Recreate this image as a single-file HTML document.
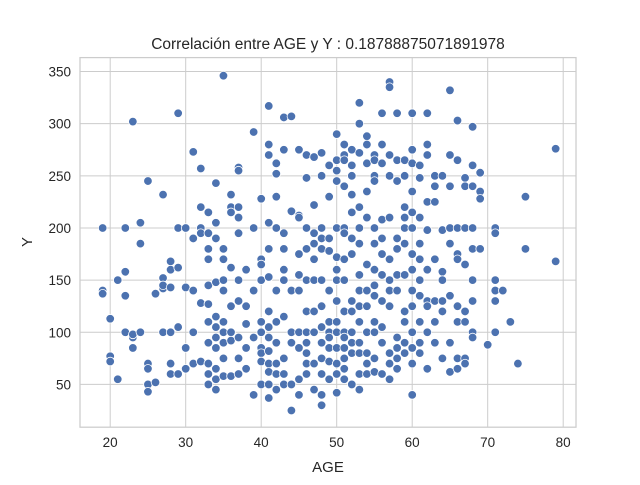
<!DOCTYPE html>
<html><head><meta charset="utf-8"><style>
body{margin:0;background:#fff}
text{font-family:"Liberation Sans",Arial,sans-serif;fill:#262626}
</style></head><body>
<svg id="chart" width="640" height="480" xmlns="http://www.w3.org/2000/svg">
<rect width="640" height="480" fill="#fff"/>
<g id="grid"></g>
<g id="pts"></g>
<rect x="80" y="57.6" width="496" height="369.6" fill="none" stroke="#cccccc" stroke-width="1.25"/>
<g id="ticks"></g>
<text x="328" y="49" text-anchor="middle" font-size="15.5">Correlación entre AGE y Y : 0.18788875071891978</text>
<text x="328" y="472" text-anchor="middle" font-size="15">AGE</text>
<text x="32" y="242" text-anchor="middle" font-size="15" transform="rotate(-90 32 242)">Y</text>
</svg>
<script>
const xTicks=[20,30,40,50,60,70,80];
const yTicks=[50,100,150,200,250,300,350];
const groups={19:[200,140,137],20:[113,77,72],21:[55,150],22:[200,158,135,100],23:[302,95,85,98],24:[205,185,100],25:[245,70,65,50,43],26:[137,52],27:[232,152,142,145,100],28:[168,160,143,100,70,60],29:[310,200,162,105,60],30:[200,85,143,65],31:[273,190,100,70,140],32:[257,220,200,195,128,72],33:[215,195,180,170,145,127,110,90,70,60,50],34:[243,205,190,148,115,105,95,85,65,55,45],35:[346,180,170,150,140,110,100,90,75,58],36:[232,220,215,162,125,100,92,58],37:[258,255,220,210,195,150,130,95,75,60],38:[160,125,108,85,65],39:[292,200,140,95,40],40:[228,170,165,150,110,100,85,80,72,50],41:[317,280,270,205,180,153,120,105,95,82,70,62,50,37],42:[252,262,230,200,140,110,90,60,45,70],43:[306,275,195,180,160,150,115,75,60,50],44:[307,216,140,100,90,50,25],45:[275,212,175,210,155,140,100,85,55,40],46:[270,248,200,180,150,120,100,90,80,70,60],47:[268,222,195,185,170,150,120,100,70,45],48:[272,250,200,190,180,150,125,105,90,75,60,40,30],49:[260,230,178,190,140,110,100,95,85,72,55],50:[290,265,255,245,200,172,160,150,130,110,100,85,70,60,42],51:[280,270,265,240,200,195,170,150,120,100,95,85,75,65,55],52:[275,260,250,232,215,190,175,130,120,100,90,80,50],53:[320,300,272,220,200,185,155,140,125,110,90,80,60,45],54:[288,280,262,235,210,165,140,125,100,80,70,60],55:[270,265,250,245,200,185,160,145,135,110,100,75,62],56:[310,280,262,208,190,175,155,130,105,90,60],57:[340,335,270,250,210,170,150,140,125,80,70,55],58:[310,265,245,190,180,155,140,95,85,75,65],59:[265,250,220,210,200,185,155,120,110,90,80],60:[310,275,262,235,215,200,175,160,140,125,100,85,70,40],61:[260,248,210,185,170,150,135,110,90,80],62:[310,280,270,225,198,160,130,125,100,65],63:[250,240,225,170,130,110,90],64:[250,198,158,150,130,120,75],65:[332,270,240,200,185,135,90,62],66:[303,265,200,175,170,125,110,75,65],67:[248,240,200,165,120,110,75,70],68:[297,260,240,200,180,150,130,100,95],69:[253,235,228,180],70:[88],71:[200,195,150,140,130,100],72:[140],73:[110],74:[70],75:[230,180],79:[276,168]};
const NS="http://www.w3.org/2000/svg";
const X=v=>80+(v-16)*7.55, Y=v=>427.2-(v-9)*1.043;
const grid=document.getElementById('grid'),ticks=document.getElementById('ticks'),pts=document.getElementById('pts');
function mk(t,a){const e=document.createElementNS(NS,t);for(const k in a)e.setAttribute(k,a[k]);return e;}
xTicks.forEach(v=>{
 const l=mk('line',{x1:X(v),x2:X(v),y1:57.6,y2:427.2,stroke:'#cccccc','stroke-width':1});
 
 
 grid.appendChild(l);
 const t=mk('text',{x:X(v),y:447,'text-anchor':'middle','font-size':13.5});
 
 
 t.textContent=v;ticks.appendChild(t);
});
yTicks.forEach(v=>{
 const l=mk('line',{x1:80,x2:576,y1:Y(v),y2:Y(v),stroke:'#cccccc','stroke-width':1});
 
 
 grid.appendChild(l);
 const t=mk('text',{x:71,y:Y(v)+5,'text-anchor':'end','font-size':13.5});
 
 
 t.textContent=v;ticks.appendChild(t);
});
Object.keys(groups).forEach(a=>{groups[a].forEach(v=>{
 const c=mk('circle',{cx:X(+a),cy:Y(v),r:4.3,fill:'#4c72b0',stroke:'#fff','stroke-width':0.8});
 
 
 pts.appendChild(c);
});});
</script>
</body></html>
